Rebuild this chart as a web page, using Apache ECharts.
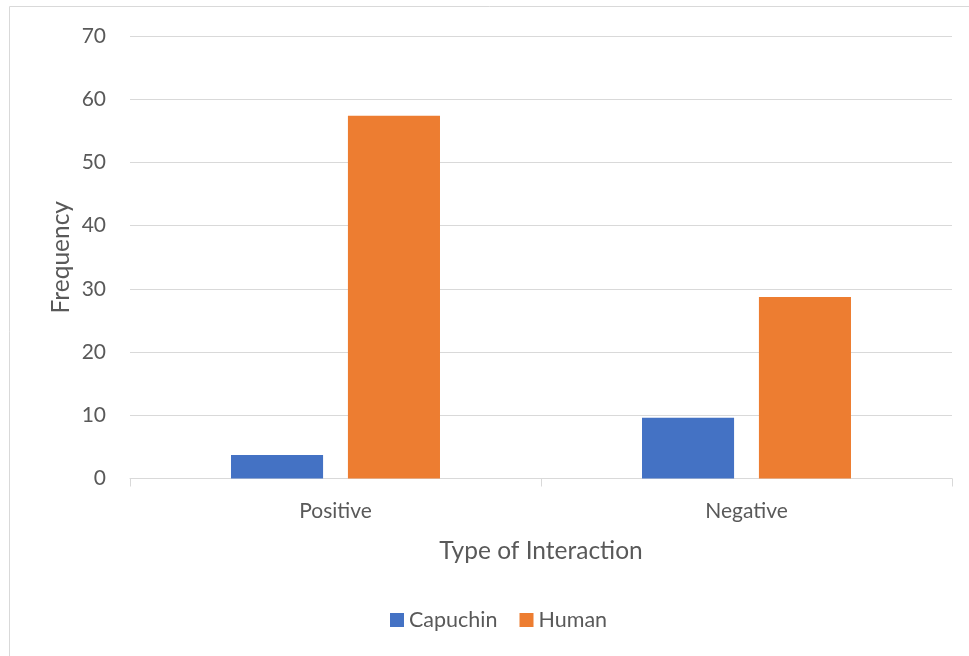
<!DOCTYPE html>
<html>
<head>
<meta charset="utf-8">
<script src="https://cdn.jsdelivr.net/npm/echarts@6/dist/echarts.min.js"></script>
<style>
  html, body { margin: 0; padding: 0; background: #fff; }
  #chart { width: 969px; height: 656px; }
</style>
</head>
<body>
<div id="chart"></div>
<script>
var categories = ['Positive', 'Negative'];
var capuchin = [3.7, 9.6];
var human = [57.4, 28.7];

var chartDom = document.getElementById('chart');
var myChart = echarts.init(chartDom);
var option;

var textColor = '#595959';
var font = 'Lato, "Open Sans", sans-serif';

option = {
    textStyle: { fontFamily: font },
    graphic: [
        {
            type: 'rect',
            shape: { x: 9.5, y: 6.5, width: 970, height: 660 },
            style: { fill: 'none', stroke: '#d9d9d9', lineWidth: 1 },
            silent: true
        }
    ],
    grid: {
        left: 130,
        right: 17,
        top: 36,
        bottom: 177.5,
        containLabel: false
    },
    legend: {
        data: ['Capuchin', 'Human'],
        bottom: 20,
        left: 385,
        itemWidth: 14,
        itemHeight: 14,
        itemGap: 22,
        icon: 'rect',
        textStyle: { color: textColor, fontSize: 21.5, fontFamily: font }
    },
    xAxis: {
        type: 'category',
        data: categories,
        name: 'Type of Interaction',
        nameLocation: 'middle',
        nameGap: 60,
        nameTextStyle: { color: textColor, fontSize: 24.5, fontFamily: font },
        axisLine: { lineStyle: { color: '#d9d9d9', width: 1 } },
        axisTick: { show: true, length: 8, lineStyle: { color: '#d9d9d9' } },
        axisLabel: { color: textColor, fontSize: 21, margin: 22, fontFamily: font }
    },
    yAxis: {
        type: 'value',
        min: 0,
        max: 70,
        interval: 10,
        name: 'Frequency',
        nameLocation: 'middle',
        nameGap: 56,
        nameMoveOverlap: false,
        nameTextStyle: { color: textColor, fontSize: 24.5, fontFamily: font },
        axisLine: { show: false },
        axisTick: { show: false },
        axisLabel: { color: textColor, fontSize: 21, margin: 24, fontFamily: font },
        splitLine: { lineStyle: { color: '#d9d9d9', width: 1 } }
    },
    series: [
        {
            name: 'Capuchin',
            type: 'bar',
            data: capuchin,
            barWidth: '22.4%',
            barGap: '27%',
            itemStyle: { color: '#4472c4' }
        },
        {
            name: 'Human',
            type: 'bar',
            data: human,
            barWidth: '22.4%',
            itemStyle: { color: '#ed7d31' }
        }
    ]
};

option && myChart.setOption(option);
</script>
</body>
</html>
